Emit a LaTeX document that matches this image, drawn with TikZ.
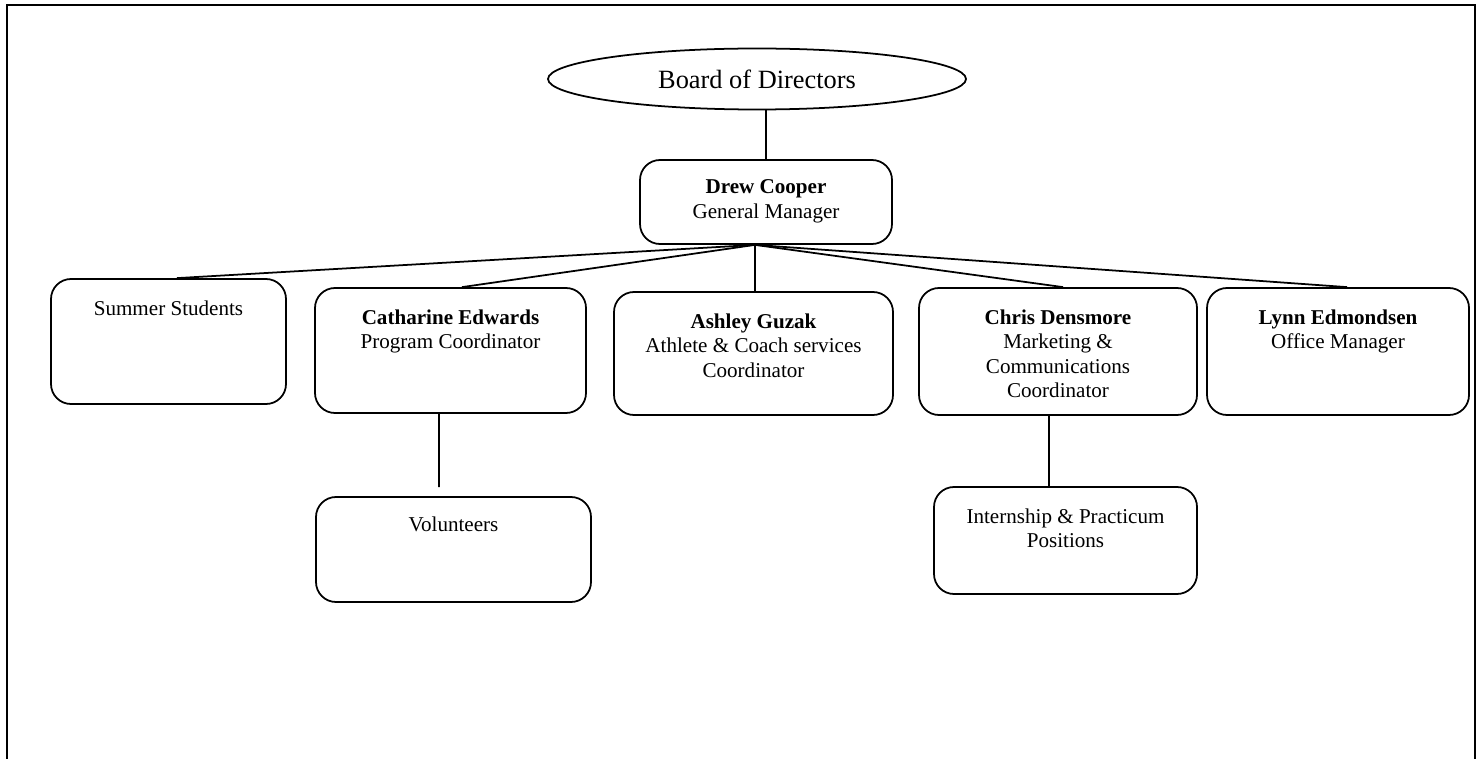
\documentclass[tikz,border=0pt]{standalone}
\usepackage{fontspec}
\setmainfont{Liberation Serif}
\usetikzlibrary{shapes.geometric, positioning}

\tikzset{
    post/.style={draw, rounded corners=4mm, line width=1pt},
    caption/.style={anchor=north, inner sep=0pt, align=center, font=\fontsize{12}{14}\selectfont},
    link/.style={line width=1pt}
}

\begin{document}
\begin{tikzpicture}[x=0.2mm, y=-0.2mm]
        \useasboundingbox (0,0) rectangle (1483,759);
        \draw[line width=1.5pt] (7,759) -- (7,5) -- (1475,5) -- (1475,759);

        \node[draw, ellipse, line width=1pt, minimum width=83.6mm, minimum height=12.2mm, font=\fontsize{15}{18}\selectfont] (board) at (757,79) {Board of Directors};

        \node[post, minimum width=50.4mm, minimum height=16.8mm] (gm) at (766,202) {};
        
        \node[post, minimum width=47mm, minimum height=25mm] (summer) at (168.5,341.5) {};
        \node[post, minimum width=54.2mm, minimum height=25mm] (cath) at (450.5,350.5) {};
        \node[post, minimum width=55.8mm, minimum height=24.6mm] (ashley) at (753.5,353.5) {};
        \node[post, minimum width=55.6mm, minimum height=25.4mm] (chris) at (1058,351.5) {};
        \node[post, minimum width=52.4mm, minimum height=25.4mm] (lynn) at (1338,351.5) {};
        
        \node[post, minimum width=55mm, minimum height=21mm] (vol) at (453.5,549.5) {};
        \node[post, minimum width=52.6mm, minimum height=21.4mm] (intern) at (1065.5,540.5) {};

        % texts, set at the top of each box
        \node[caption, below=4mm of gm.north] (gm-text) {\textbf{Drew Cooper}\\General Manager};
        \node[caption, below=4.4mm of summer.north] (summer-text) {Summer Students};
        \node[caption, below=4.4mm of cath.north] (cath-text) {\textbf{Catharine Edwards}\\Program Coordinator};
        \node[caption, below=4.4mm of ashley.north] (ashley-text) {\textbf{Ashley Guzak}\\Athlete \& Coach services\\Coordinator};
        \node[caption, below=4.4mm of chris.north] (chris-text) {\textbf{Chris Densmore}\\Marketing \&\\Communications\\Coordinator};
        \node[caption, below=4.4mm of lynn.north] (lynn-text) {\textbf{Lynn Edmondsen}\\Office Manager};
        \node[caption, below=4mm of vol.north] (vol-text) {Volunteers};
        \node[caption, below=4.4mm of intern.north] (intern-text) {Internship \& Practicum\\Positions};

        \draw[link] (gm.north) -- (gm.north |- board.south);
        
        \coordinate (hub) at ([xshift=-2.2mm]gm.south);
        \draw[link] (hub) -- ([xshift=1.7mm]summer.north);
        \draw[link] (hub) -- ([xshift=2.3mm]cath.north);
        \draw[link] (hub) -- (hub |- ashley.north);
        \draw[link] (hub) -- ([xshift=1mm]chris.north);
        \draw[link] (hub) -- ([xshift=1.8mm]lynn.north);
        
        \draw[link] ([xshift=-2.3mm]cath.south) -- ([xshift=-2.9mm, yshift=1.8mm]vol.north);
        \draw[link] ([xshift=-1.8mm]chris.south) -- ([xshift=-3.3mm]intern.north);
        
    \end{tikzpicture}
\end{document}
